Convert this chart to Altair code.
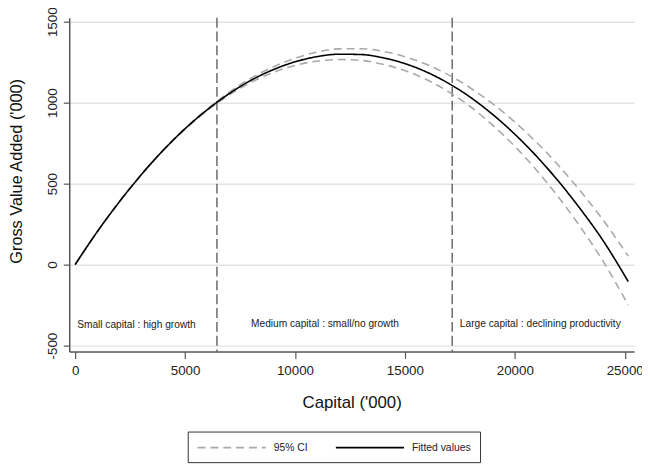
import altair as alt
import pandas as pd

FONT = "Liberation Sans, Arial, sans-serif"

# Capital ('000) positions where the curves were read
X_VALS = [0, 1000, 2000, 3000, 4000, 5000, 6000, 7000, 8000, 9000, 10000, 11000,
          12000, 13000, 14000, 15000, 16000, 17000, 18000, 19000, 20000, 21000,
          22000, 23000, 24000, 25160]
# Fitted values (Gross Value Added '000)
FITTED = [0, 202, 386, 554, 705, 839, 955, 1055, 1138, 1203, 1252, 1284,
          1299, 1297, 1277, 1241, 1188, 1118, 1031, 926, 805, 667,
          512, 340, 151, -105]
# 95% CI upper and lower bounds
UPPER = [1, 203, 387, 555, 707, 842, 960, 1063, 1151, 1220, 1274, 1312,
         1332, 1333, 1317, 1284, 1235, 1170, 1089, 992, 880, 753,
         610, 451, 278, 52]
LOWER = [-1, 201, 385, 553, 703, 836, 950, 1047, 1125, 1186, 1230, 1256,
         1266, 1261, 1237, 1198, 1141, 1066, 973, 860, 730, 581,
         414, 229, 24, -250]

SERIES = ["95% CI", "Fitted values"]

X_TICKS = [0, 5000, 10000, 15000, 20000, 25000]
Y_TICKS = [-500, 0, 500, 1000, 1500]

ZONE_BOUNDS = [6450, 17150]
ZONE_LABELS = ["Small capital : high growth",
               "Medium capital : small/no growth",
               "Large capital : declining productivity"]
ZONE_LABEL_X = [90, 8000, 17500]
ZONE_LABEL_Y = [-375, -365, -365]

rows = []
for x, f, u, l in zip(X_VALS, FITTED, UPPER, LOWER):
    rows.append({"x": x, "y": u, "series": "95% CI", "bound": "upper"})
    rows.append({"x": x, "y": l, "series": "95% CI", "bound": "lower"})
    rows.append({"x": x, "y": f, "series": "Fitted values", "bound": "fit"})
df = pd.DataFrame(rows)

x_scale = alt.Scale(domain=[-270, 25426], nice=False, zero=False)
y_scale = alt.Scale(domain=[-537, 1524], nice=False, zero=False)

x_axis = alt.Axis(values=X_TICKS, title="Capital ('000)", grid=False, tickSize=7,
                  labelPadding=5, labelFlush=False, labelOverlap=False,
                  labelExpr="datum.value + ''", titleY=52, titleBaseline="middle")
y_axis = alt.Axis(values=Y_TICKS, title="Gross Value Added ('000)", grid=True, tickSize=6,
                  labelAngle=270, labelAlign="center", labelBaseline="bottom",
                  labelPadding=4, labelFlush=False, labelOverlap=False,
                  labelExpr="datum.value + ''",
                  titleAngle=270, titleX=-53, titleY=155, titleAlign="center",
                  titleBaseline="middle", titleFontSize=16.5)

rules = alt.Chart(pd.DataFrame({"x": ZONE_BOUNDS})).mark_rule(
    color="#444444", strokeDash=[10, 4], strokeWidth=1.2
).encode(x=alt.X("x:Q", scale=x_scale, axis=x_axis))

lines = alt.Chart(df).mark_line(strokeWidth=1.6, interpolate="monotone").encode(
    x=alt.X("x:Q", scale=x_scale, axis=x_axis),
    y=alt.Y("y:Q", scale=y_scale, axis=y_axis),
    color=alt.Color("series:N", scale=alt.Scale(domain=SERIES, range=["#a9a9a9", "#000000"]),
                    legend=alt.Legend(title=None)),
    strokeDash=alt.StrokeDash("series:N", scale=alt.Scale(domain=SERIES, range=[[8, 5], [1, 0]]),
                              legend=alt.Legend(title=None)),
    detail="bound:N",
)

texts = alt.Chart(pd.DataFrame({"x": ZONE_LABEL_X, "y": ZONE_LABEL_Y, "label": ZONE_LABELS})).mark_text(
    align="left", baseline="middle", fontSize=10.3, font=FONT, color="#1a1a1a"
).encode(x=alt.X("x:Q", scale=x_scale), y=alt.Y("y:Q", scale=y_scale), text="label:N")

chart = alt.layer(rules, lines, texts).properties(
    width=572, height=338,
    padding={"left": 62, "top": 7, "right": 8, "bottom": 113},
    autosize=alt.AutoSizeParams(type="none"),
).configure_view(stroke=None).configure_axis(
    domainColor="#555555", domainWidth=1.5, tickColor="#555555", tickWidth=1.2,
    labelFont=FONT, labelFontSize=13.5, labelColor="#222222",
    titleFont=FONT, titleFontSize=17, titleFontWeight="normal", titleColor="#111111",
    gridColor="#e3e3e3", gridWidth=1.5,
).configure_legend(
    orient="none", legendX=120, legendY=419, direction="horizontal",
    strokeColor="#333333", fillColor="white", padding=9,
    symbolType="M-1,0H10.5", symbolSize=144, symbolStrokeWidth=1.6,
    labelOffset=64, labelFont=FONT, labelFontSize=10.5, labelColor="#222222",
    columnPadding=24,
)

chart.save("out.html", embed_options={"renderer": "svg", "actions": False})
